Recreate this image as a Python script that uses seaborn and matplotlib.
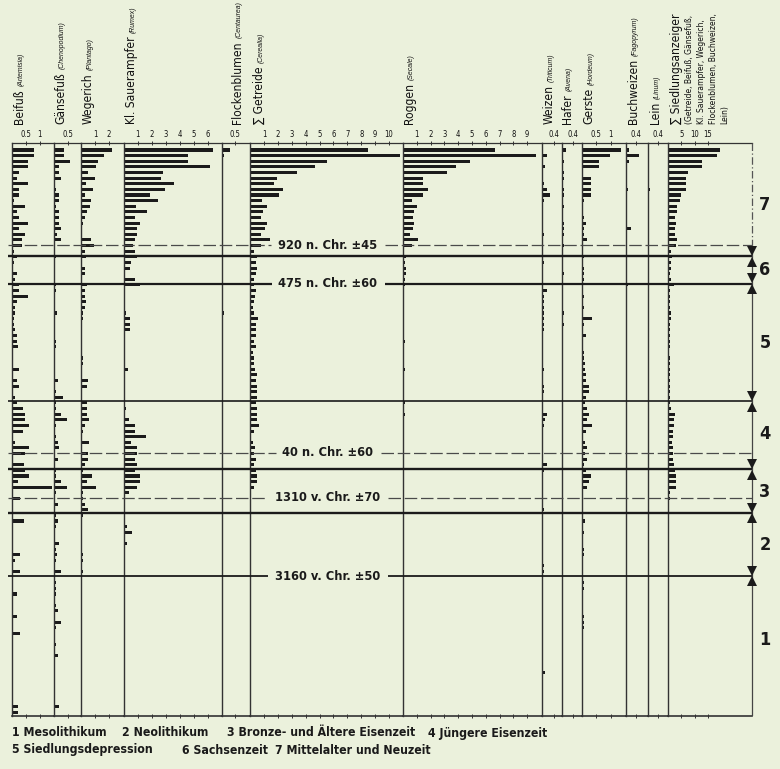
import matplotlib
matplotlib.use("Agg")
import matplotlib.pyplot as plt
import seaborn as sns
import pandas as pd
from matplotlib import font_manager

# ---- data: one value per sample (top = sample 1) ----
probe = list(range(1, 102))

beifuss = [
    0.79, 0.79, 0.58, 0.58, 0.27, 0.17, 0.58, 0.27, 0.27, 0.07,
    0.49, 0.17, 0.27, 0.58, 0.27, 0.49, 0.38, 0.38, 0.07, 0.17,
    0.07, 0.00, 0.17, 0.10, 0.27, 0.27, 0.58, 0.17, 0.10, 0.10,
    0.07, 0.07, 0.10, 0.17, 0.17, 0.20, 0.00, 0.05, 0.00, 0.27,
    0.00, 0.17, 0.27, 0.05, 0.10, 0.17, 0.40, 0.49, 0.49, 0.60,
    0.40, 0.00, 0.10, 0.60, 0.49, 0.00, 0.42, 0.49, 0.60, 0.23,
    1.47, 0.05, 0.30, 0.00, 0.05, 0.05, 0.42, 0.05, 0.05, 0.05,
    0.00, 0.05, 0.30, 0.10, 0.00, 0.30, 0.00, 0.00, 0.00, 0.17,
    0.00, 0.05, 0.00, 0.17, 0.05, 0.00, 0.30, 0.05, 0.05, 0.00,
    0.00, 0.00, 0.05, 0.00, 0.00, 0.00, 0.00, 0.00, 0.00, 0.20,
    0.20]
gaensefuss = [
    0.37, 0.37, 0.56, 0.18, 0.18, 0.26, 0.00, 0.07, 0.18, 0.18,
    0.07, 0.18, 0.18, 0.18, 0.26, 0.11, 0.26, 0.03, 0.03, 0.07,
    0.03, 0.03, 0.03, 0.03, 0.07, 0.07, 0.03, 0.03, 0.03, 0.11,
    0.03, 0.03, 0.03, 0.03, 0.07, 0.09, 0.03, 0.03, 0.03, 0.03,
    0.03, 0.14, 0.03, 0.07, 0.33, 0.07, 0.07, 0.26, 0.48, 0.07,
    0.00, 0.07, 0.14, 0.18, 0.03, 0.14, 0.03, 0.07, 0.09, 0.26,
    0.48, 0.07, 0.03, 0.14, 0.03, 0.09, 0.14, 0.07, 0.03, 0.03,
    0.18, 0.07, 0.11, 0.09, 0.00, 0.26, 0.00, 0.07, 0.07, 0.09,
    0.00, 0.07, 0.14, 0.00, 0.26, 0.07, 0.00, 0.00, 0.07, 0.00,
    0.14, 0.00, 0.03, 0.00, 0.00, 0.00, 0.00, 0.00, 0.00, 0.18,
    0.00]
wegerich = [
    2.24, 1.64, 1.19, 1.07, 0.52, 1.00, 0.36, 0.83, 0.29, 0.69,
    0.64, 0.45, 0.31, 0.17, 0.10, 0.10, 0.69, 0.93, 0.29, 0.36,
    0.10, 0.29, 0.29, 0.10, 0.45, 0.29, 0.29, 0.36, 0.29, 0.17,
    0.12, 0.10, 0.10, 0.05, 0.05, 0.05, 0.00, 0.17, 0.12, 0.05,
    0.10, 0.52, 0.40, 0.10, 0.05, 0.45, 0.45, 0.40, 0.60, 0.29,
    0.12, 0.00, 0.60, 0.00, 0.52, 0.52, 0.29, 0.12, 0.76, 0.40,
    1.07, 0.17, 0.17, 0.29, 0.52, 0.17, 0.00, 0.00, 0.05, 0.05,
    0.00, 0.00, 0.17, 0.12, 0.05, 0.17, 0.00, 0.00, 0.00, 0.00,
    0.00, 0.00, 0.00, 0.00, 0.00, 0.00, 0.00, 0.00, 0.00, 0.00,
    0.00, 0.00, 0.00, 0.00, 0.00, 0.00, 0.00, 0.00, 0.00, 0.00,
    0.00]
sauerampfer = [
    6.38, 4.58, 4.58, 6.19, 2.83, 2.71, 3.60, 2.97, 1.87, 2.49,
    0.86, 1.68, 0.79, 1.20, 0.96, 0.96, 0.79, 0.67, 0.79, 0.96,
    0.55, 0.48, 0.10, 0.79, 1.15, 0.07, 0.07, 0.07, 0.10, 0.19,
    0.48, 0.48, 0.43, 0.14, 0.10, 0.10, 0.00, 0.14, 0.00, 0.31,
    0.00, 0.10, 0.00, 0.00, 0.10, 0.10, 0.19, 0.14, 0.38, 0.79,
    0.79, 1.58, 0.55, 0.96, 0.96, 0.79, 0.96, 0.79, 1.20, 1.20,
    0.96, 0.38, 0.10, 0.00, 0.10, 0.10, 0.00, 0.24, 0.62, 0.00,
    0.24, 0.00, 0.00, 0.00, 0.00, 0.05, 0.00, 0.00, 0.05, 0.00,
    0.00, 0.00, 0.05, 0.00, 0.00, 0.00, 0.05, 0.00, 0.05, 0.00,
    0.00, 0.00, 0.05, 0.00, 0.00, 0.00, 0.00, 0.00, 0.00, 0.00,
    0.00]
flockenblumen = [
    0.29, 0.06, 0.00, 0.00, 0.00, 0.00, 0.04, 0.00, 0.00, 0.00,
    0.00, 0.00, 0.00, 0.00, 0.04, 0.04, 0.04, 0.00, 0.00, 0.00,
    0.00, 0.00, 0.00, 0.00, 0.00, 0.00, 0.00, 0.00, 0.00, 0.06,
    0.00, 0.00, 0.00, 0.00, 0.00, 0.00, 0.00, 0.00, 0.00, 0.00,
    0.00, 0.00, 0.00, 0.00, 0.00, 0.00, 0.00, 0.00, 0.00, 0.00,
    0.00, 0.00, 0.00, 0.00, 0.00, 0.00, 0.00, 0.00, 0.00, 0.00,
    0.00, 0.00, 0.00, 0.00, 0.00, 0.00, 0.00, 0.00, 0.00, 0.00,
    0.00, 0.00, 0.00, 0.00, 0.00, 0.00, 0.00, 0.00, 0.00, 0.00,
    0.00, 0.00, 0.00, 0.00, 0.00, 0.00, 0.00, 0.00, 0.00, 0.00,
    0.00, 0.00, 0.00, 0.00, 0.00, 0.00, 0.00, 0.00, 0.00, 0.00,
    0.00]
getreide = [
    8.49, 10.80, 5.56, 4.65, 3.40, 1.92, 1.73, 2.40, 2.10, 0.86,
    1.20, 0.91, 0.82, 1.20, 1.08, 0.77, 1.44, 0.82, 0.29, 0.48,
    0.41, 0.53, 0.41, 0.29, 0.29, 0.41, 0.34, 0.29, 0.24, 0.29,
    0.58, 0.41, 0.41, 0.41, 0.29, 0.41, 0.24, 0.29, 0.29, 0.34,
    0.53, 0.41, 0.48, 0.48, 0.48, 0.41, 0.53, 0.48, 0.53, 0.65,
    0.29, 0.00, 0.24, 0.34, 0.29, 0.41, 0.29, 0.41, 0.48, 0.48,
    0.29, 0.10, 0.10, 0.00, 0.10, 0.00, 0.10, 0.00, 0.05, 0.00,
    0.00, 0.00, 0.05, 0.00, 0.00, 0.00, 0.00, 0.00, 0.05, 0.00,
    0.00, 0.00, 0.00, 0.00, 0.05, 0.00, 0.00, 0.00, 0.00, 0.00,
    0.05, 0.00, 0.00, 0.00, 0.00, 0.00, 0.00, 0.00, 0.00, 0.00,
    0.00]
roggen = [
    6.65, 9.66, 4.84, 3.83, 3.20, 1.47, 1.42, 1.83, 1.42, 0.63,
    0.99, 0.80, 0.75, 0.80, 0.75, 0.50, 1.10, 0.63, 0.10, 0.22,
    0.17, 0.22, 0.19, 0.14, 0.14, 0.10, 0.10, 0.07, 0.07, 0.00,
    0.07, 0.00, 0.07, 0.10, 0.17, 0.10, 0.00, 0.10, 0.00, 0.17,
    0.00, 0.10, 0.00, 0.10, 0.00, 0.17, 0.10, 0.14, 0.00, 0.00,
    0.00, 0.00, 0.00, 0.00, 0.00, 0.00, 0.00, 0.00, 0.00, 0.00,
    0.00, 0.00, 0.00, 0.00, 0.00, 0.00, 0.00, 0.00, 0.00, 0.00,
    0.00, 0.00, 0.00, 0.00, 0.00, 0.00, 0.00, 0.00, 0.00, 0.00,
    0.00, 0.00, 0.00, 0.00, 0.00, 0.00, 0.00, 0.00, 0.00, 0.00,
    0.00, 0.00, 0.00, 0.00, 0.00, 0.00, 0.00, 0.00, 0.00, 0.00,
    0.00]
weizen = [
    0.00, 0.16, 0.05, 0.12, 0.05, 0.00, 0.08, 0.16, 0.26, 0.08,
    0.00, 0.00, 0.05, 0.05, 0.05, 0.08, 0.05, 0.05, 0.00, 0.00,
    0.08, 0.00, 0.00, 0.00, 0.00, 0.16, 0.08, 0.08, 0.08, 0.08,
    0.08, 0.08, 0.08, 0.00, 0.00, 0.00, 0.00, 0.00, 0.00, 0.08,
    0.00, 0.00, 0.08, 0.08, 0.00, 0.00, 0.00, 0.16, 0.12, 0.08,
    0.00, 0.00, 0.00, 0.00, 0.00, 0.00, 0.16, 0.08, 0.00, 0.05,
    0.00, 0.00, 0.00, 0.00, 0.08, 0.00, 0.00, 0.00, 0.00, 0.00,
    0.00, 0.00, 0.00, 0.00, 0.08, 0.08, 0.00, 0.00, 0.00, 0.00,
    0.00, 0.00, 0.00, 0.00, 0.00, 0.00, 0.00, 0.00, 0.00, 0.00,
    0.00, 0.00, 0.00, 0.10, 0.00, 0.00, 0.00, 0.00, 0.00, 0.00,
    0.00]
hafer = [
    0.16, 0.00, 0.06, 0.00, 0.06, 0.06, 0.00, 0.06, 0.06, 0.00,
    0.06, 0.00, 0.00, 0.06, 0.06, 0.06, 0.00, 0.06, 0.00, 0.00,
    0.00, 0.00, 0.06, 0.00, 0.00, 0.00, 0.00, 0.00, 0.00, 0.06,
    0.00, 0.06, 0.00, 0.00, 0.00, 0.00, 0.00, 0.00, 0.00, 0.00,
    0.00, 0.00, 0.00, 0.00, 0.00, 0.00, 0.00, 0.00, 0.00, 0.00,
    0.00, 0.00, 0.00, 0.00, 0.00, 0.00, 0.00, 0.00, 0.00, 0.00,
    0.00, 0.00, 0.00, 0.00, 0.00, 0.00, 0.00, 0.00, 0.00, 0.00,
    0.00, 0.00, 0.00, 0.00, 0.00, 0.00, 0.00, 0.00, 0.00, 0.00,
    0.00, 0.00, 0.00, 0.00, 0.00, 0.00, 0.00, 0.00, 0.00, 0.00,
    0.00, 0.00, 0.00, 0.00, 0.00, 0.00, 0.00, 0.00, 0.00, 0.00,
    0.00]
gerste = [
    1.37, 0.99, 0.60, 0.60, 0.04, 0.30, 0.30, 0.30, 0.30, 0.06,
    0.04, 0.04, 0.06, 0.15, 0.06, 0.06, 0.18, 0.00, 0.00, 0.06,
    0.00, 0.06, 0.06, 0.06, 0.00, 0.00, 0.06, 0.00, 0.06, 0.00,
    0.36, 0.06, 0.00, 0.15, 0.00, 0.00, 0.06, 0.06, 0.12, 0.12,
    0.15, 0.15, 0.24, 0.24, 0.15, 0.12, 0.18, 0.24, 0.18, 0.36,
    0.15, 0.00, 0.12, 0.18, 0.12, 0.18, 0.06, 0.15, 0.30, 0.24,
    0.18, 0.00, 0.00, 0.00, 0.00, 0.00, 0.12, 0.00, 0.06, 0.00,
    0.00, 0.06, 0.06, 0.00, 0.00, 0.00, 0.00, 0.06, 0.06, 0.00,
    0.00, 0.00, 0.00, 0.06, 0.06, 0.06, 0.00, 0.00, 0.00, 0.00,
    0.00, 0.00, 0.00, 0.00, 0.00, 0.00, 0.00, 0.00, 0.00, 0.00,
    0.00]
buchweizen = [
    0.10, 0.49, 0.10, 0.00, 0.00, 0.00, 0.00, 0.06, 0.00, 0.00,
    0.00, 0.00, 0.00, 0.00, 0.19, 0.00, 0.00, 0.00, 0.00, 0.00,
    0.00, 0.00, 0.00, 0.00, 0.06, 0.00, 0.00, 0.00, 0.00, 0.00,
    0.00, 0.00, 0.00, 0.00, 0.00, 0.00, 0.00, 0.00, 0.00, 0.00,
    0.00, 0.00, 0.00, 0.00, 0.00, 0.00, 0.00, 0.00, 0.00, 0.00,
    0.00, 0.00, 0.00, 0.00, 0.00, 0.00, 0.00, 0.00, 0.00, 0.00,
    0.00, 0.00, 0.00, 0.00, 0.00, 0.00, 0.00, 0.00, 0.00, 0.00,
    0.00, 0.00, 0.00, 0.00, 0.00, 0.00, 0.00, 0.00, 0.00, 0.00,
    0.00, 0.00, 0.00, 0.00, 0.00, 0.00, 0.00, 0.00, 0.00, 0.00,
    0.00, 0.00, 0.00, 0.00, 0.00, 0.00, 0.00, 0.00, 0.00, 0.00,
    0.00]
lein = [
    0.00, 0.00, 0.00, 0.00, 0.00, 0.00, 0.00, 0.09, 0.00, 0.00,
    0.00, 0.00, 0.00, 0.00, 0.00, 0.00, 0.00, 0.00, 0.00, 0.00,
    0.00, 0.00, 0.00, 0.00, 0.00, 0.00, 0.00, 0.00, 0.00, 0.00,
    0.00, 0.00, 0.00, 0.00, 0.00, 0.00, 0.00, 0.00, 0.00, 0.00,
    0.00, 0.00, 0.00, 0.00, 0.00, 0.00, 0.00, 0.00, 0.00, 0.00,
    0.00, 0.00, 0.00, 0.00, 0.00, 0.00, 0.00, 0.00, 0.00, 0.00,
    0.00, 0.00, 0.00, 0.00, 0.00, 0.00, 0.00, 0.00, 0.00, 0.00,
    0.00, 0.00, 0.00, 0.00, 0.00, 0.00, 0.00, 0.00, 0.00, 0.00,
    0.00, 0.00, 0.00, 0.00, 0.00, 0.00, 0.00, 0.00, 0.00, 0.00,
    0.00, 0.00, 0.00, 0.00, 0.00, 0.00, 0.00, 0.00, 0.00, 0.00,
    0.00]
siedlung = [
    19.4, 18.4, 12.9, 12.9, 7.5, 6.6, 6.6, 6.9, 5.0, 4.6,
    3.4, 3.4, 2.5, 3.1, 2.6, 2.6, 3.4, 2.9, 1.25, 1.6,
    1.25, 1.25, 0.9, 1.25, 2.1, 0.9, 0.9, 0.6, 0.6, 1.25,
    1.25, 0.9, 0.9, 0.6, 0.6, 0.6, 0.4, 0.6, 0.6, 0.6,
    0.6, 0.9, 0.9, 0.6, 0.6, 0.9, 1.25, 2.5, 2.1, 2.1,
    1.9, 1.9, 1.6, 1.9, 1.9, 1.9, 2.1, 2.5, 2.9, 2.9,
    3.1, 0.6, 0.6, 0.3, 0.4, 0.3, 0.4, 0.3, 0.3, 0.3,
    0.3, 0.3, 0.4, 0.3, 0.3, 0.4, 0.3, 0.3, 0.3, 0.3,
    0.3, 0.3, 0.3, 0.3, 0.4, 0.3, 0.3, 0.3, 0.3, 0.3,
    0.3, 0.3, 0.3, 0.3, 0.0, 0.0, 0.0, 0.0, 0.0, 0.3,
    0.3]

# zone boundaries and radiocarbon dates, in sample positions
zone_bounds = [19.9, 24.8, 45.7, 57.8, 65.6, 76.8]
zone_names = ["7", "6", "5", "4", "3", "2", "1"]
zone_mid = [10.8, 22.4, 35.3, 51.5, 61.9, 71.3, 88.2]
date_depth = [17.9, 24.8, 54.9, 62.9, 76.8]
date_text = ["920 n. Chr. ±45", "475 n. Chr. ±60", "40 n. Chr. ±60",
             "1310 v. Chr. ±70", "3160 v. Chr. ±50"]

legend_rows = [
    ["1 Mesolithikum", "2 Neolithikum", "3 Bronze- und Ältere Eisenzeit", "4 Jüngere Eisenzeit"],
    ["5 Siedlungsdepression", "6 Sachsenzeit", "7 Mittelalter und Neuzeit"],
]

df = pd.DataFrame({
    "probe": probe, "beifuss": beifuss, "gaensefuss": gaensefuss,
    "wegerich": wegerich, "sauerampfer": sauerampfer,
    "flockenblumen": flockenblumen, "getreide": getreide, "roggen": roggen,
    "weizen": weizen, "hafer": hafer, "gerste": gerste,
    "buchweizen": buchweizen, "lein": lein, "siedlung": siedlung,
})


# ---- fonts: prefer a narrow face that has regular and bold ----
def _w(f):
    w = f.weight
    return font_manager.weight_dict.get(w, 400) if isinstance(w, str) else w


def _condensed(f):
    st = f.stretch
    return st in ("condensed", "semi-condensed") or (isinstance(st, int) and 300 <= st <= 400)


groups = {}
for f in font_manager.fontManager.ttflist:
    if "Narrow" in f.name or "Condensed" in f.name:
        groups.setdefault((f.name, "normal"), []).append(f)
    elif _condensed(f) and f.name in ("Liberation Sans", "Noto Sans", "Open Sans",
                                      "Roboto", "DejaVu Sans", "Lato", "Inter"):
        groups.setdefault((f.name, "condensed"), []).append(f)


def _score(key, fs):
    reg = any(f.style == "normal" and 380 <= _w(f) <= 500 for f in fs)
    bold = any(f.style == "normal" and _w(f) >= 600 for f in fs)
    ital = any(f.style != "normal" for f in fs)
    bad = any(s in key[0] for s in ("Extra", "Light", "Thin", "Black", "Medium", "Semi"))
    return reg * 8 + bold * 4 + ital * 2 - bad * 10


best = max(groups.items(), key=lambda kv: _score(*kv), default=None)
REG = dict(family=["Liberation Sans", "DejaVu Sans"], fontstretch="normal")
BOLD = dict(REG, fontweight="bold")
ITAL = dict(family=["Liberation Sans", "DejaVu Sans"], style="italic")
if best is not None and _score(*best) >= 8:
    (name, stretch), fs = best
    nar = dict(family=[name, "DejaVu Sans"], fontstretch=stretch)
    REG = nar
    if any(f.style == "normal" and _w(f) >= 600 for f in fs):
        BOLD = dict(nar, fontweight="bold")

# ---- layout (pixels) ----
W, H = 780, 769
TOP, BOT = 143, 716
YLIM = (101.7, -0.25)
BG = "#ebf1dc"
INK = "#1b1b1b"
LINE = "#333333"

sns.set_theme(style="white")
plt.rcParams["font.family"] = REG["family"]
plt.rcParams["font.stretch"] = REG["fontstretch"]

fig = plt.figure(figsize=(W / 100, H / 100), dpi=100, facecolor=BG)
renderer = fig.canvas.get_renderer()


def fit(sample, target_px, props):
    """font size that gives `sample` the pixel length seen in the reference"""
    t = fig.text(0, 0, sample, fontsize=10, **props)
    w = t.get_window_extent(renderer).width
    t.remove()
    return 10 * target_px / w


SZ_MAIN = fit("Flockenblumen", 82, REG)
SZ_LATIN = fit("(Centaurea)", 37, ITAL)
SZ_SMALL = fit("(Getreide, Beifuß, Gänsefuß,", 110, REG)
SZ_TICK = fit("0.5", 11, REG)
SZ_DATE = fit("920 n. Chr. ±45", 99, BOLD)
SZ_LEG = fit("1 Mesolithikum", 95, BOLD)

# column, zero x, right x, px per unit, ticks, tick labels
panels = [
    ("beifuss", 12, 53.5, 27.5, [0.5, 1], ["0.5", "1"]),
    ("gaensefuss", 53.5, 81, 29, [0.5], ["0.5"]),
    ("wegerich", 81, 123.5, 14, [1, 2], ["1", "2"]),
    ("sauerampfer", 123.5, 222, 14, [1, 2, 3, 4, 5, 6], None),
    ("flockenblumen", 222, 250, 26, [0.5], ["0.5"]),
    ("getreide", 250, 403, 13.9, list(range(1, 11)), None),
    ("roggen", 403, 542, 13.8, list(range(1, 10)), None),
    ("weizen", 542, 562, 29, [0.4], ["0.4"]),
    ("hafer", 562, 582, 27, [0.4], ["0.4"]),
    ("gerste", 582, 626, 28.5, [0.5, 1], ["0.5", "1"]),
    ("buchweizen", 626, 648, 26, [0.4], ["0.4"]),
    ("lein", 648, 668, 25, [0.4], ["0.4"]),
    ("siedlung", 668, 752, 2.67, [5, 10, 15], None),
]

fb = (H - BOT) / H
fh = (BOT - TOP) / H

for col, x0, x1, ppu, ticks, labels in panels:
    ax = fig.add_axes([x0 / W, fb, (x1 - x0) / W, fh])
    ax.patch.set_visible(False)
    sns.barplot(data=df, x=col, y="probe", orient="h", native_scale=True,
                color=INK, saturation=1, width=0.55, linewidth=0,
                errorbar=None, ax=ax)
    ax.set_xlim(0, (x1 - x0) / ppu)
    ax.set_ylim(*YLIM)
    ax.set_xlabel("")
    ax.set_ylabel("")
    ax.set_yticks([])
    ax.set_xticks(ticks)
    ax.set_xticklabels(labels if labels else [str(t) for t in ticks])
    ax.tick_params(axis="x", top=True, bottom=True, labeltop=True,
                   labelbottom=False, direction="inout", length=3,
                   width=0.7, color=LINE, labelsize=SZ_TICK, pad=1.5,
                   labelcolor="#111111")
    ax.spines["right"].set_visible(False)
    ax.spines["left"].set_color(LINE)
    ax.spines["left"].set_linewidth(1.0)
    ax.spines["top"].set_color(LINE)
    ax.spines["top"].set_linewidth(0.9)
    ax.spines["bottom"].set_color(LINE)
    ax.spines["bottom"].set_linewidth(1.2)

# overlay for zone lines, dates and the zone axis
ov = fig.add_axes([0, fb, 1, fh], zorder=5)
ov.patch.set_visible(False)
ov.axis("off")
ov.set_xlim(0, W)
ov.set_ylim(*YLIM)

date_artists = []
for d, txt in zip(date_depth, date_text):
    t = ov.text(328, d, txt, ha="center", va="center", fontsize=SZ_DATE,
                color="#1a1a1a", **BOLD)
    date_artists.append((d, t))

# header labels (rotated, reading upwards)
Y0 = (H - 124) / H
headers = [
    (22.7, "Beifuß", "(Artemisia)"),
    (64, "Gänsefuß", "(Chenopodium)"),
    (91.5, "Wegerich", "(Plantago)"),
    (135, "Kl. Sauerampfer", "(Rumex)"),
    (240.5, "Flockenblumen", "(Centaurea)"),
    (263, "∑ Getreide", "(Cerealia)"),
    (413, "Roggen", "(Secale)"),
    (552.5, "Weizen", "(Triticum)"),
    (570.5, "Hafer", "(Avena)"),
    (592.5, "Gerste", "(Hordeum)"),
    (637, "Buchweizen", "(Fagopyrum)"),
    (659, "Lein", "(Linum)"),
]
rot = dict(rotation=90, rotation_mode="anchor", ha="left", va="baseline",
           color="#111111")
main_texts = []
for x, main, latin in headers:
    t = fig.text(x / W, Y0, main, fontsize=SZ_MAIN, **rot, **REG)
    main_texts.append((x, t, latin))

fig.text(680 / W, Y0, "∑ Siedlungsanzeiger", fontsize=SZ_MAIN, **rot, **REG)
for x, txt in [(692, "(Getreide, Beifuß, Gänsefuß,"),
               (704, "Kl. Sauerampfer, Wegerich,"),
               (716, "Flockenblumen, Buchweizen,"),
               (727, "Lein)")]:
    fig.text(x / W, Y0, txt, fontsize=SZ_SMALL, **rot, **REG)

fig.canvas.draw()

for x, t, latin in main_texts:
    bb = t.get_window_extent(renderer)
    fig.text(x / W, (bb.y1 + 3) / H, latin, fontsize=SZ_LATIN, **rot, **ITAL)

# horizontal lines (broken where a date label sits)
gaps = {}
for d, t in date_artists:
    bb = t.get_window_extent(renderer)
    gaps[d] = (bb.x0 - 7, bb.x1 + 7)

thin = dict(lw=0.9, color="#4a4a4a", dashes=(10, 3))
line_style = {
    17.9: thin,
    19.9: dict(lw=1.7, color=INK),
    24.8: dict(lw=1.6, color=INK),
    45.7: dict(lw=1.2, color=INK),
    54.9: thin,
    57.8: dict(lw=1.7, color=INK),
    62.9: thin,
    65.6: dict(lw=1.7, color=INK),
    76.8: dict(lw=1.3, color=INK),
}
for d, st in line_style.items():
    segs = [(8, 752)]
    if d in gaps:
        g0, g1 = gaps[d]
        segs = [(8, g0), (g1, 752)]
    for a, b in segs:
        ov.plot([a, b], [d, d], solid_capstyle="butt", **st)

# zone axis with arrows (dashed above the youngest boundary)
ov.plot([752, 752], [YLIM[1], zone_bounds[0]], color="#555555", lw=0.9,
        dashes=(6, 2, 1, 2))
ov.plot([752, 752], [zone_bounds[0], YLIM[0]], color="#444444", lw=0.9)
for b in zone_bounds:
    ov.plot([752], [b - 0.95], marker="v", ms=7, color=INK, mew=0)
    ov.plot([752], [b + 0.95], marker="^", ms=7, color=INK, mew=0)
for name, m in zip(zone_names, zone_mid):
    ov.text(765, m, name, ha="center", va="center", fontsize=13,
            color="#1a1a1a", **BOLD)

# legend below
legend_x = [[12, 122, 227, 428], [12, 182, 275]]
legend_y = [733, 750]
for row, xs, y in zip(legend_rows, legend_x, legend_y):
    for txt, x in zip(row, xs):
        fig.text(x / W, (H - y) / H, txt, ha="left", va="center",
                 fontsize=SZ_LEG, color="#1a1a1a", **BOLD)

fig.savefig("out.png", dpi=100, facecolor=BG)
